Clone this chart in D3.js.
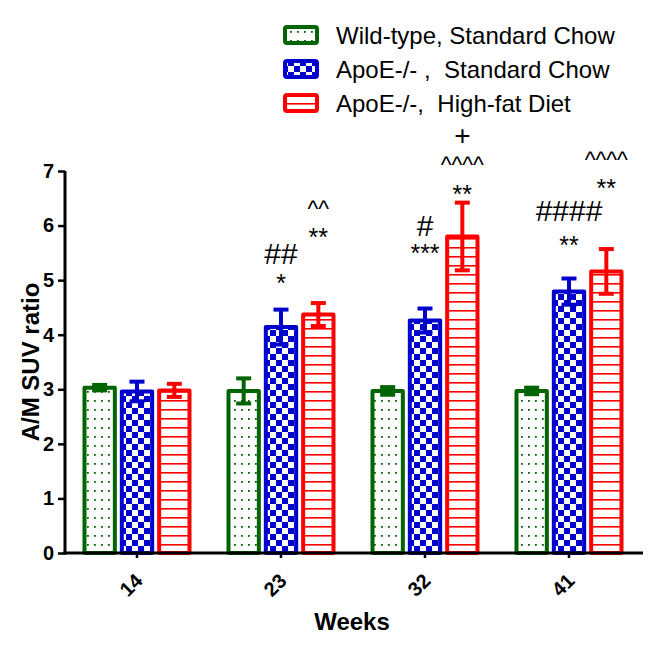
<!DOCTYPE html>
<html><head><meta charset="utf-8">
<script src="https://cdn.jsdelivr.net/npm/d3@7"></script>
<style>
html,body{margin:0;padding:0;background:#fff;}
text{font-family:"Liberation Sans",Arial,sans-serif;}
</style></head>
<body><svg id="chart" width="668" height="650"></svg>
<script>
// ---- data ----
const weeks = ["14", "23", "32", "41"];
const seriesNames = ["Wild-type, Standard Chow", "ApoE-/- ,  Standard Chow", "ApoE-/-,  High-fat Diet"];
const wtMean = [3.03, 2.97, 2.97, 2.97];
const wtErr = [0.05, 0.23, 0.07, 0.06];
const apoeMean = [2.96, 4.14, 4.26, 4.79];
const apoeErr = [0.18, 0.32, 0.22, 0.24];
const hfdMean = [2.98, 4.37, 5.80, 5.16];
const hfdErr = [0.12, 0.21, 0.62, 0.41];
const yTicks = [0, 1, 2, 3, 4, 5, 6, 7];
// significance marks: week, series index, symbol, level (data units)
const annWeek = ["23", "23", "23", "23", "32", "32", "32", "32", "32", "41", "41", "41", "41"];
const annSeries = [1, 1, 2, 2, 1, 1, 2, 2, 2, 1, 1, 2, 2];
const annText = ["*", "##", "**", "^^", "***", "#", "**", "^^^^", "+", "**", "####", "**", "^^^^"];
const annLevel = [5.04, 5.50, 5.88, 6.38, 5.59, 6.01, 6.67, 7.19, 7.64, 5.74, 6.29, 6.78, 7.29];

const means = [wtMean, apoeMean, hfdMean];
const errs = [wtErr, apoeErr, hfdErr];
const colors = ["#006400", "#0000CC", "#FF0000"];
const patIds = ["patDots", "patCheck", "patLines"];

const svg = d3.select("#chart");
const defs = svg.append("defs");

// dots pattern
const pd = defs.append("pattern").attr("id", "patDots").attr("patternUnits", "userSpaceOnUse")
  .attr("width", 7).attr("height", 9);
pd.append("rect").attr("width", 7).attr("height", 9).attr("fill", "#fff");
pd.append("rect").attr("x", 3).attr("y", 4).attr("width", 1.8).attr("height", 1.8).attr("fill", colors[0]);
// checker pattern
const pc = defs.append("pattern").attr("id", "patCheck").attr("patternUnits", "userSpaceOnUse")
  .attr("width", 12).attr("height", 12);
pc.append("rect").attr("width", 12).attr("height", 12).attr("fill", "#fff");
pc.append("rect").attr("width", 6).attr("height", 6).attr("fill", colors[1]);
pc.append("rect").attr("x", 6).attr("y", 6).attr("width", 6).attr("height", 6).attr("fill", colors[1]);
// lines pattern
const pl = defs.append("pattern").attr("id", "patLines").attr("patternUnits", "userSpaceOnUse")
  .attr("width", 10).attr("height", 9);
pl.append("rect").attr("width", 10).attr("height", 9).attr("fill", "#fff");
pl.append("rect").attr("y", 4).attr("width", 10).attr("height", 1.6).attr("fill", colors[2]);

// scales
const y = d3.scaleLinear().domain([0, 7]).range([553, 171]);
const x0 = d3.scaleBand().domain(weeks).range([65, 641]).paddingInner(0).paddingOuter(0);
const x1 = d3.scaleBand().domain([0, 1, 2]).range([-56, 56]).paddingInner(0.08).paddingOuter(0.04);
const cx = (w) => x0(w) + x0.bandwidth() / 2;

const sw = 4;
// bars
weeks.forEach((w, i) => {
  [0, 1, 2].forEach(s => {
    const bx = cx(w) + x1(s);
    const bw = x1.bandwidth();
    const top = y(means[s][i]);
    svg.append("rect")
      .attr("x", bx + sw / 2).attr("y", top)
      .attr("width", bw - sw).attr("height", y(0) - top)
      .attr("fill", `url(#${patIds[s]})`)
      .attr("stroke", colors[s]).attr("stroke-width", sw)
      .attr("stroke-linejoin", "round");
    // error bar
    const mx = bx + bw / 2;
    const hi = y(means[s][i] + errs[s][i]);
    const lo = y(means[s][i] - errs[s][i]);
    const cap = 15;
    const g = svg.append("g").attr("stroke", colors[s]).attr("stroke-width", 4);
    g.append("line").attr("x1", mx).attr("x2", mx).attr("y1", hi).attr("y2", lo);
    g.append("line").attr("x1", mx - cap / 2).attr("x2", mx + cap / 2).attr("y1", hi).attr("y2", hi);
    g.append("line").attr("x1", mx - cap / 2).attr("x2", mx + cap / 2).attr("y1", lo).attr("y2", lo);
  });
});

// y axis
const yAxis = d3.axisLeft(y).tickValues(yTicks).tickSize(7).tickPadding(4).tickFormat(d3.format("d"));
const gy = svg.append("g").attr("transform", "translate(65,0)").call(yAxis);
gy.select(".domain").attr("stroke-width", 3).attr("d", `M0,${y(7)}V${y(0) + 1.5}`);
gy.selectAll(".tick line").attr("stroke-width", 2.5);
gy.selectAll(".tick text").attr("font-size", 20).attr("font-weight", "bold").attr("fill", "#000")
  .attr("font-family", "Liberation Sans, Arial, sans-serif");

// x axis
const xAxis = d3.axisBottom(x0).tickSize(5).tickFormat(d => d);
const gx = svg.append("g").attr("transform", `translate(0,${y(0)})`).call(xAxis);
gx.select(".domain").attr("stroke-width", 3).attr("d", "M63.5,0H643");
gx.selectAll(".tick line").attr("stroke-width", 2.5);
gx.selectAll(".tick text").attr("font-size", 20).attr("font-weight", "bold").attr("fill", "#000")
  .attr("font-family", "Liberation Sans, Arial, sans-serif")
  .attr("text-anchor", "middle").attr("dy", null).attr("y", null)
  .attr("transform", "translate(-6,32) rotate(-45)")
  .attr("dominant-baseline", "central");

// axis titles
svg.append("text").attr("x", 352).attr("y", 630).attr("text-anchor", "middle")
  .attr("font-size", 24).attr("font-weight", "bold").text("Weeks");
svg.append("text").attr("transform", "translate(39,362) rotate(-90)").attr("text-anchor", "middle")
  .attr("font-size", 24).attr("font-weight", "bold").text("A/M SUV ratio");

// annotations
const glyphOffset = { "*": 0.55, "#": 0.36, "^": 0.55, "+": 0.33 };
const glyphSize = { "*": 25, "#": 30, "^": 23, "+": 28 };
annText.forEach((t, k) => {
  const s = annSeries[k];
  const ax = cx(annWeek[k]) + x1(s) + x1.bandwidth() / 2;
  const fs = glyphSize[t[0]];
  svg.append("text").attr("x", ax).attr("y", y(annLevel[k]) + glyphOffset[t[0]] * fs)
    .attr("text-anchor", "middle").attr("font-size", fs).attr("fill", "#000").text(t);
});

// legend
const legY = [35, 69, 103];
seriesNames.forEach((n, s) => {
  svg.append("rect").attr("x", 285).attr("y", legY[s] - 8).attr("width", 32).attr("height", 16)
    .attr("rx", 2)
    .attr("fill", `url(#${patIds[s]})`).attr("stroke", colors[s]).attr("stroke-width", 4);
  svg.append("text").attr("x", 336).attr("y", legY[s] + 8.5).attr("font-size", 24)
    .attr("fill", "#000").style("white-space", "pre").attr("xml:space", "preserve").text(n);
});
</script></body></html>
